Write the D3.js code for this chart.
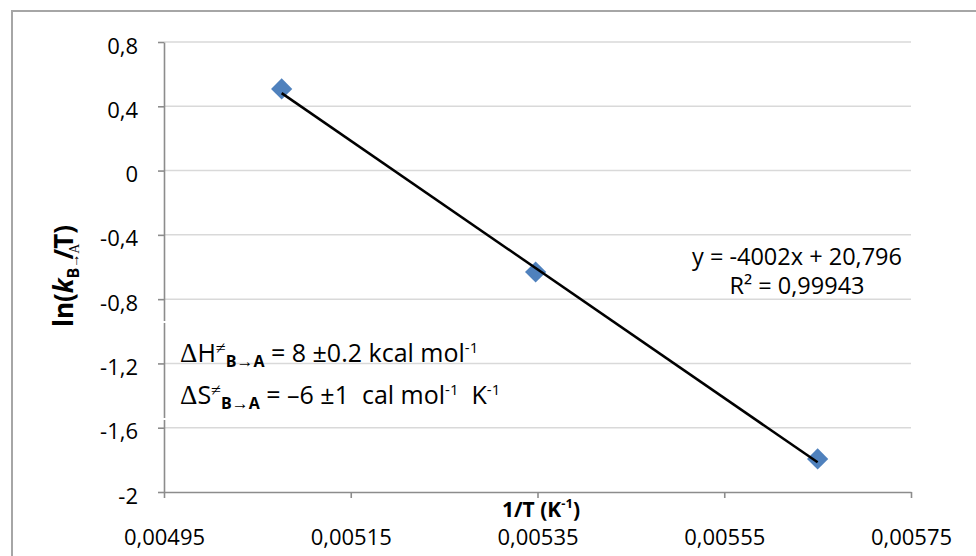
<!DOCTYPE html>
<html>
<head>
<meta charset="utf-8">
<script src="https://cdn.jsdelivr.net/npm/d3@7"></script>
<style>
  html, body { margin: 0; padding: 0; background: #ffffff; }
  svg { display: block; }
</style>
</head>
<body>
<svg id="chart" width="976" height="556"></svg>
<script>
// Eyring plot: ln(k/T) against 1/T with a linear trendline
const invT = [0.005076, 0.005348, 0.00565];
const lnKT = [0.508, -0.631, -1.794];
const fitSlope = -4002;
const fitIntercept = 20.796;
const fitR2 = "0,99943";
const xTickValues = [0.00495, 0.00515, 0.00535, 0.00555, 0.00575];
const yTickValues = [0.8, 0.4, 0, -0.4, -0.8, -1.2, -1.6, -2];

const svg = d3.select("#chart");
const FONT = "'Open Sans', sans-serif";
const SERIF = "'Liberation Serif', serif";

const x = d3.scaleLinear().domain([0.00495, 0.00575]).range([164, 911]);
const y = d3.scaleLinear().domain([-2, 0.8]).range([492, 42]);

const comma = s => s.replace(".", ",");
const fmtX = d => comma(d3.format(".5f")(d));
const fmtY = d => d === 0 ? "0" : comma(String(d));

// outer frame
svg.append("rect")
  .attr("x", 12).attr("y", 11)
  .attr("width", 1000).attr("height", 600)
  .attr("fill", "none")
  .attr("stroke", "#a6a6a6")
  .attr("stroke-width", 2);

// horizontal gridlines
svg.append("g")
  .selectAll("line")
  .data(yTickValues.filter(d => d !== -2))
  .join("line")
  .attr("x1", x.range()[0]).attr("x2", x.range()[1])
  .attr("y1", d => y(d)).attr("y2", d => y(d))
  .attr("stroke", "#d9d9d9")
  .attr("stroke-width", 1.5);

// y axis
const yAxis = svg.append("g")
  .attr("transform", `translate(${x.range()[0]},0)`)
  .call(d3.axisLeft(y).tickValues(yTickValues).tickFormat(fmtY)
    .tickSize(6).tickSizeOuter(0).tickPadding(20));
yAxis.select(".domain").attr("stroke", "#8c8c8c").attr("stroke-width", 1.6);
yAxis.selectAll(".tick line").attr("stroke", "#8c8c8c").attr("stroke-width", 1.6);
yAxis.selectAll(".tick text")
  .attr("font-family", FONT).attr("font-size", 22).attr("fill", "#000")
  .attr("dy", "0.5em");

// x axis
const xAxis = svg.append("g")
  .attr("transform", `translate(0,${y.range()[0]})`)
  .call(d3.axisBottom(x).tickValues(xTickValues).tickFormat(fmtX)
    .tickSize(6).tickSizeOuter(0).tickPadding(31));
xAxis.select(".domain").attr("stroke", "#8c8c8c").attr("stroke-width", 1.6);
xAxis.selectAll(".tick line").attr("stroke", "#8c8c8c").attr("stroke-width", 1.6);
xAxis.selectAll(".tick text")
  .attr("font-family", FONT).attr("font-size", 22).attr("fill", "#000");

// small breaks in the y axis where the annotation box edges sit
svg.append("g").selectAll("rect")
  .data([321, 418])
  .join("rect")
  .attr("x", x.range()[0] - 2).attr("y", d => d)
  .attr("width", 4).attr("height", 2)
  .attr("fill", "#ffffff");

// data markers (diamonds)
svg.append("g")
  .selectAll("path")
  .data(invT.map((v, i) => [v, lnKT[i]]))
  .join("path")
  .attr("d", d3.symbol(d3.symbolSquare, 225))
  .attr("transform", d => `translate(${x(d[0])},${y(d[1])}) rotate(45)`)
  .attr("fill", "#4f81bd");

// linear trendline over the data range
const xFit = d3.extent(invT);
svg.append("line")
  .attr("x1", x(xFit[0])).attr("y1", y(fitSlope * xFit[0] + fitIntercept))
  .attr("x2", x(xFit[1])).attr("y2", y(fitSlope * xFit[1] + fitIntercept))
  .attr("stroke", "#000")
  .attr("stroke-width", 2.5);

// trendline equation
const eq = svg.append("text")
  .attr("font-family", FONT).attr("font-size", 23.5)
  .attr("text-anchor", "middle").attr("fill", "#000");
eq.append("tspan").attr("x", 797).attr("y", 265)
  .text(`y = ${fitSlope}x + ${comma(String(fitIntercept))}`);
eq.append("tspan").attr("x", 797).attr("y", 294)
  .text("R² = " + fitR2);

// activation parameters
function paramLine(yPos, letter, rest, sups) {
  const t = svg.append("text")
    .attr("x", 180).attr("y", yPos)
    .attr("font-family", FONT).attr("font-size", 25).attr("fill", "#000");
  t.append("tspan").attr("font-family", SERIF).attr("font-size", 27).text("Δ");
  t.append("tspan").text(letter);
  t.append("tspan").attr("font-family", SERIF).attr("font-size", 18).attr("dy", -8).text("≠");
  t.append("tspan").attr("font-weight", "bold").attr("font-size", 16).attr("dy", 13).text("B");
  t.append("tspan").attr("font-family", SERIF).attr("font-size", 17).text("→");
  t.append("tspan").attr("font-weight", "bold").attr("font-size", 16).text("A");
  let shift = -5;
  rest.forEach((seg, i) => {
    t.append("tspan").attr("dy", shift).text(seg);
    if (sups[i]) {
      t.append("tspan").attr("font-size", 15).attr("dy", -9).text(sups[i]);
      shift = 9;
    }
  });
}
paramLine(362, "H", [" = 8 ±0.2 kcal mol"], ["-1"]);
paramLine(404, "S", [" = –6 ±1\u00A0 cal mol", "\u00A0 K"], ["-1", "-1"]);

// axis titles
const yTitle = svg.append("text")
  .attr("transform", "translate(73,276) rotate(-90)")
  .attr("text-anchor", "middle")
  .attr("font-family", FONT).attr("font-size", 26).attr("font-weight", "bold").attr("fill", "#000");
yTitle.append("tspan").text("ln(");
yTitle.append("tspan").attr("font-style", "italic").text("k");
yTitle.append("tspan").attr("font-size", 16).attr("dy", 6).text("B");
yTitle.append("tspan").attr("font-size", 14).attr("font-weight", "normal").attr("font-family", SERIF).text("→A");
yTitle.append("tspan").attr("dy", -6).attr("dx", -16).text("/T)");

const xTitle = svg.append("text")
  .attr("x", 541).attr("y", 517)
  .attr("text-anchor", "middle")
  .attr("font-family", FONT).attr("font-size", 21).attr("font-weight", "bold").attr("fill", "#000");
xTitle.append("tspan").text("1/T (K");
xTitle.append("tspan").attr("font-size", 13).attr("dy", -9).text("-1");
xTitle.append("tspan").attr("dy", 9).text(")");
</script>
</body>
</html>
